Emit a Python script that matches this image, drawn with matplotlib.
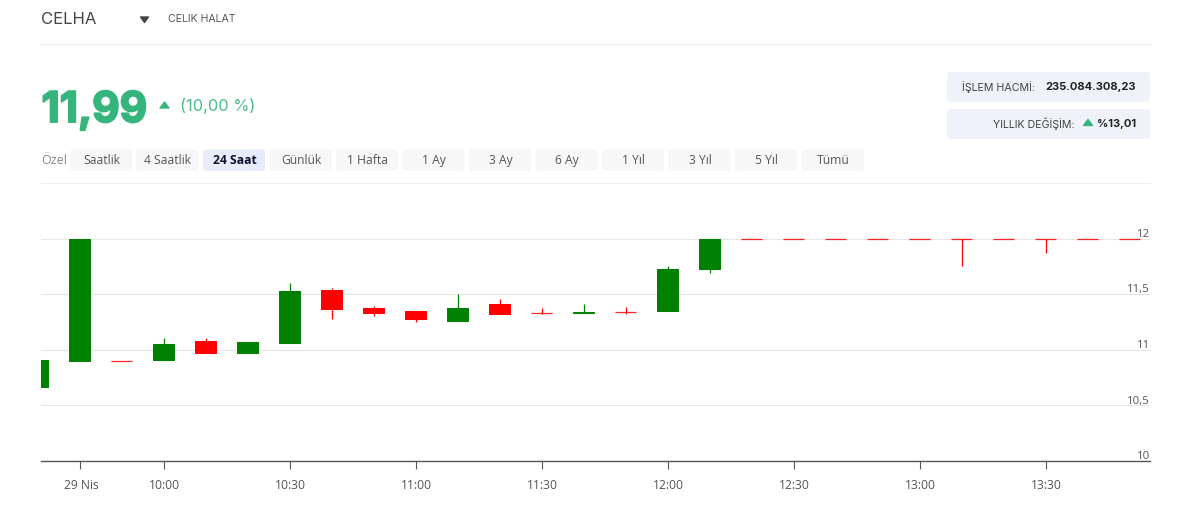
import matplotlib
matplotlib.use('Agg')
import matplotlib.pyplot as plt
import matplotlib.patheffects as pe
from matplotlib.patches import FancyBboxPatch, Polygon
from matplotlib.transforms import ScaledTranslation

# one candle every 10 minutes
times = ['09:30', '09:40', '09:50', '10:00', '10:10', '10:20', '10:30', '10:40', '10:50',
         '11:00', '11:10', '11:20', '11:30', '11:40', '11:50', '12:00', '12:10', '12:20',
         '12:30', '12:40', '12:50', '13:00', '13:10', '13:20', '13:30', '13:40', '13:50']
opens = [10.67, 10.90, 10.90, 10.91, 11.08, 10.97, 11.06, 11.54, 11.375,
         11.35, 11.265, 11.41, 11.335, 11.335, 11.345, 11.35, 11.725, 12.0,
         12.0, 12.0, 12.0, 12.0, 12.0, 12.0, 12.0, 12.0, 12.0]
highs = [10.906, 12.0, 10.90, 11.11, 11.11, 11.07, 11.60, 11.56, 11.40,
         11.355, 11.505, 11.46, 11.375, 11.41, 11.385, 11.755, 12.0, 12.0,
         12.0, 12.0, 12.0, 12.0, 12.0, 12.0, 12.0, 12.0, 12.0]
lows = [10.67, 10.90, 10.90, 10.91, 10.97, 10.97, 11.06, 11.28, 11.31,
        11.255, 11.26, 11.325, 11.325, 11.33, 11.325, 11.35, 11.69, 12.0,
        12.0, 12.0, 12.0, 12.0, 11.76, 12.0, 11.87, 12.0, 12.0]
closes = [10.906, 12.0, 10.90, 11.05, 10.97, 11.07, 11.53, 11.37, 11.33,
          11.28, 11.375, 11.325, 11.335, 11.345, 11.345, 11.73, 12.0, 12.0,
          12.0, 12.0, 12.0, 12.0, 12.0, 12.0, 12.0, 12.0, 12.0]

y_ticks = [10, 10.5, 11, 11.5, 12]
y_tick_labels = ['10', '10,5', '11', '11,5', '12']
x_tick_times = ['09:40', '10:00', '10:30', '11:00', '11:30', '12:00', '12:30', '13:00', '13:30']
x_tick_labels = ['29 Nis', '10:00', '10:30', '11:00', '11:30', '12:00', '12:30', '13:00', '13:30']

ranges = ['Saatlik', '4 Saatlik', '24 Saat', 'Günlük', '1 Hafta', '1 Ay', '3 Ay', '6 Ay',
          '1 Yıl', '3 Yıl', '5 Yıl', 'Tümü']
active_range = '24 Saat'

GREEN = '#008000'
RED = '#ff0000'
PRICE = '#35b57c'
HEAD_FONT = ['Inter', 'DejaVu Sans']
BODY_FONT = ['Open Sans', 'DejaVu Sans']

fig = plt.figure(figsize=(12, 5.08), dpi=100)

# page furniture, in pixel coordinates
ui = fig.add_axes([0, 0, 1, 1])
ui.set_xlim(0, 1200)
ui.set_ylim(508, 0)
ui.axis('off')


def box(x0, y0, x1, y1, color):
    ui.add_patch(FancyBboxPatch((x0 + 3, y0 + 3), x1 - x0 - 6, y1 - y0 - 6,
                                boxstyle='round,pad=3,rounding_size=3',
                                facecolor=color, edgecolor='none'))


def triangle(cx, top, bottom, half, color):
    ui.add_patch(Polygon([(cx - half, bottom), (cx + half, bottom), (cx, top)],
                         closed=True, facecolor=color, edgecolor=color, linewidth=1, joinstyle='round'))


ui.plot([41, 1150], [44, 44], color='#eeeeee', lw=0.8)
ui.plot([41, 1150], [183, 183], color='#eeeeee', lw=0.8)

ui.text(41, 19.5, 'CELHA', family=HEAD_FONT, fontsize=12, color='#444444', va='center')
triangle(144.5, 22.5, 17, 4, '#444444')
ui.text(168, 19.5, 'CELIK HALAT', family=HEAD_FONT, fontsize=7.6, color='#555555', va='center')

price = ui.text(41.5, 122, '11,99', family=HEAD_FONT, fontsize=30.5, fontweight='bold', color=PRICE, va='baseline')
price.set_path_effects([pe.withStroke(linewidth=1.4, foreground=PRICE)])
triangle(164.5, 102, 108, 4.5, PRICE)
ui.text(180, 105.5, '(10,00 %)', family=HEAD_FONT, fontsize=11.8, color=PRICE, alpha=0.9, va='center')

ui.text(41, 160.5, 'Özel', family=BODY_FONT, fontsize=9, color='#888888', va='center')
for i, name in enumerate(ranges):
    x0 = 70 + i * 66.5
    is_active = name == active_range
    box(x0, 149.5, x0 + 62, 171, '#e8ebfa' if is_active else '#f7f7f7')
    ui.text(x0 + 31.5, 160.5, name, family=BODY_FONT, fontsize=8.7, ha='center', va='center',
            fontweight='bold' if is_active else 'normal', color='#111133' if is_active else '#555555')

box(947, 72, 1150, 102, '#f0f2f9')
box(947, 109, 1150, 139, '#f0f2f9')
ui.text(1035, 87, 'İŞLEM HACMİ:', family=HEAD_FONT, fontsize=7.7, color='#444444', ha='right', va='center')
ui.text(1136, 87, '235.084.308,23', family=HEAD_FONT, fontsize=8, fontweight='bold', color='#222222', ha='right', va='center')
ui.text(1075, 124, 'YILLIK DEĞİŞİM:', family=HEAD_FONT, fontsize=7.7, color='#444444', ha='right', va='center')
triangle(1088, 119.5, 125.5, 4.5, PRICE)
ui.text(1136, 124, '%13,01', family=HEAD_FONT, fontsize=8, fontweight='bold', color='#222222', ha='right', va='center')

# candlestick chart
ax = fig.add_axes([41 / 1200, 1 - 461 / 508, 1109 / 1200, 271 / 508])
ax.patch.set_alpha(0)
positions = list(range(len(times)))
for x, o, h, l, c in zip(positions, opens, highs, lows, closes):
    color = GREEN if c > o else RED
    ax.vlines(x, l, h, color=color, lw=0.9, zorder=2)
    if c == o:
        # flat candle is only a dash
        ax.hlines(o, x - 0.26, x + 0.26, color=color, lw=0.9, alpha=0.85, zorder=3)
    else:
        ax.bar(x, abs(c - o), bottom=min(o, c), width=0.5, color=color, edgecolor=color, linewidth=0.75, zorder=3)

ax.set_xlim(3.5 / 42, 1112.5 / 42)
ax.set_ylim(10, 12.44)
ax.set_xticks([times.index(t) for t in x_tick_times])
ax.set_xticklabels(x_tick_labels, family=BODY_FONT, fontsize=8.7, color='#555555')
ax.tick_params(axis='x', length=6, width=0.8, color='#555555', pad=7)
for label in ax.get_xticklabels():
    label.set_transform(label.get_transform() + ScaledTranslation(1 / 72, 0, fig.dpi_scale_trans))

ax.yaxis.tick_right()
ax.set_yticks(y_ticks)
ax.set_yticklabels(y_tick_labels, family=BODY_FONT, fontsize=8.2, color='#555555')
ax.tick_params(axis='y', length=0, pad=0)
for label in ax.get_yticklabels():
    label.set_ha('right')
    label.set_va('baseline')
    label.set_transform(label.get_transform() + ScaledTranslation(0, 1.4 / 72, fig.dpi_scale_trans))
ax.grid(axis='y', color='#e6e6e6', lw=0.8, zorder=0)
ax.set_axisbelow(True)

for side in ['top', 'left', 'right']:
    ax.spines[side].set_visible(False)
ax.spines['bottom'].set_color('#555555')
ax.spines['bottom'].set_linewidth(1)

fig.savefig('out.png', dpi=100)
